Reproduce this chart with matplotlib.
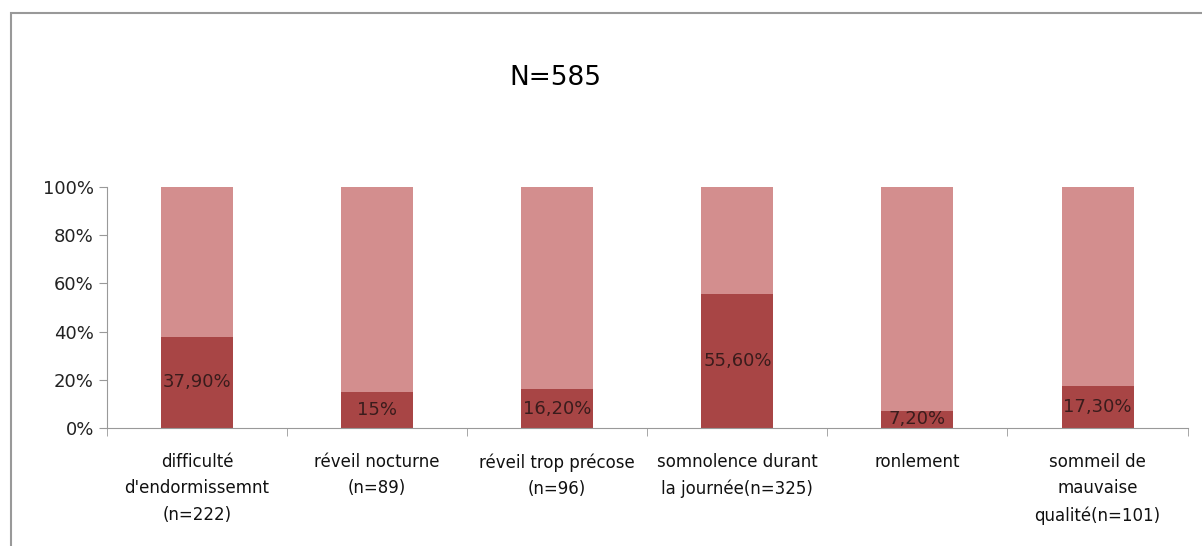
import matplotlib.pyplot as plt
import numpy as np
from matplotlib.patches import Rectangle

categories = ["difficulté\nd'endormissemnt\n(n=222)", "réveil nocturne\n(n=89)", "réveil trop précose\n(n=96)",
              "somnolence durant\nla journée(n=325)", "ronlement", "sommeil de\nmauvaise\nqualité(n=101)"]
pct = [37.9, 15.0, 16.2, 55.6, 7.2, 17.3]
pct_labels = ["37,90%", "15%", "16,20%", "55,60%", "7,20%", "17,30%"]
title = "N=585"

dark = '#a84545'
light = '#d38e8e'

fig = plt.figure(figsize=(12.02, 5.46), dpi=100)
ax = fig.add_axes([0.089, 0.216, 0.899, 0.442])

pct = np.array(pct)
x = np.arange(len(categories))
ax.bar(x, pct, width=0.4, color=dark)
ax.bar(x, 100 - pct, bottom=pct, width=0.4, color=light)
for i, v in enumerate(pct):
    ax.text(x[i], v / 2, pct_labels[i], ha='center', va='center', fontsize=13, color='#3a1c1c')

ax.set_xlim(-0.5, len(categories) - 0.5)
ax.set_ylim(0, 100)
ax.set_yticks(np.arange(0, 101, 20), [f"{t}%" for t in range(0, 101, 20)], fontsize=13, color='#222222')
ax.set_xticks(x, categories, fontsize=12, color='#111111', linespacing=1.6)
ax.set_xticks(np.arange(-0.5, len(categories)), minor=True)
ax.tick_params(axis='x', which='major', length=0, pad=18)
ax.tick_params(axis='x', which='minor', length=6, color='#999999')
ax.tick_params(axis='y', length=6, color='#999999')
for s in ['top', 'right']:
    ax.spines[s].set_visible(False)
ax.spines['left'].set_color('#999999')
ax.spines['bottom'].set_color('#999999')

fig.text(0.462, 0.857, title, fontsize=19, ha='center', va='center')
fig.patches.append(Rectangle((0.009, -0.2), 1.2, 1.176, transform=fig.transFigure,
                             fill=False, edgecolor='#999999', linewidth=1.5))

fig.savefig("out.png", dpi=100)
